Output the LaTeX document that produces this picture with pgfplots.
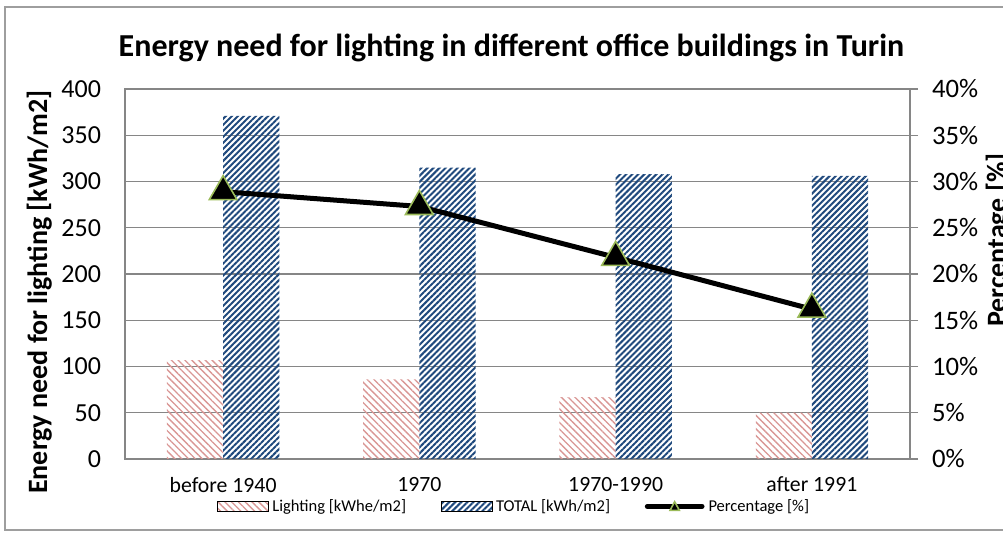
\documentclass[border=0pt]{standalone}
\usepackage{fontspec}
\setmainfont{Carlito}
\usepackage{pgfplots}
\pgfplotsset{compat=1.18}
\usetikzlibrary{patterns.meta}

\definecolor{axgray}{RGB}{134,134,134}
\definecolor{litered}{RGB}{217,150,148}
\definecolor{totblue}{RGB}{31,73,125}
\definecolor{mkgreen}{RGB}{155,187,89}

\tikzset{
  lightpat/.style={pattern={Lines[angle=-45,distance=3.6pt,line width=1pt]},pattern color=litered},
  totpat/.style={pattern={Lines[angle=45,distance=3.2pt,line width=1.5pt]},pattern color=totblue},
}

\begin{document}
\begin{tikzpicture}
% outer chart frame (right side runs off the page)
\draw[axgray!80, line width=1.1pt] (3.75pt,3.75pt) rectangle (770pt,396pt);

\begin{axis}[
  at={(93.75pt,57pt)}, anchor=south west,
  scale only axis, width=588.75pt, height=277.5pt,
  xmin=-0.5, xmax=3.5, ymin=0, ymax=400,
  ybar=0pt, bar width=0.286,
  xtick={0,1,2,3},
  xticklabels={before 1940,1970,1970-1990,after 1991},
  ytick={0,50,...,400},
  xtick pos=bottom, ytick pos=left,
  major tick length=0pt,
  ymajorgrids, grid style={axgray, line width=1.1pt},
  axis line style={axgray, line width=1.1pt},
  /pgf/number format/assume math mode=true,
  xticklabel style={font=\fontsize{16.3}{19}\selectfont, yshift=-10pt},
  yticklabel style={font=\fontsize{19.5}{23}\selectfont, xshift=-14.5pt},
]
\addplot[draw=none, lightpat] coordinates {(0,107) (1,86) (2,67) (3,50)};
\addplot[draw=none, totpat] coordinates {(0,371) (1,315) (2,308) (3,306)};
\end{axis}

\begin{axis}[
  at={(93.75pt,57pt)}, anchor=south west,
  scale only axis, width=588.75pt, height=277.5pt,
  xmin=-0.5, xmax=3.5, ymin=0, ymax=40,
  axis x line=none, axis y line*=right,
  ytick={0,5,...,40},
  yticklabels={0\%,5\%,10\%,15\%,20\%,25\%,30\%,35\%,40\%},
  major tick length=6pt, tick align=outside,
  tick style={axgray, line width=1.1pt},
  axis line style={axgray, line width=1.1pt},
  yticklabel style={font=\fontsize{20}{24}\selectfont, xshift=7pt},
  legend columns=3,
  legend style={at={(0.497,-0.128)}, anchor=center, draw=none, fill=none,
    font=\fontsize{12.4}{14}\selectfont,
    nodes={inner xsep=3pt},
    /tikz/every even column/.append style={column sep=23pt}},
]
\addlegendimage{legend image code/.code={\fill[lightpat] (0pt,-4pt) rectangle (38pt,4pt);}}
\addlegendentry{Lighting [kWhe/m2]}
\addlegendimage{legend image code/.code={\fill[totpat] (0pt,-4pt) rectangle (38pt,4pt);}}
\addlegendentry{TOTAL [kWh/m2]}
\addplot[black, line width=3.75pt, mark=triangle*, mark size=12pt,
  mark options={fill=black, draw=mkgreen, line width=1.2pt},
  legend image code/.code={
    \draw[black, line width=3.75pt, line cap=round] (0pt,0pt) -- (41pt,0pt);
    \draw[mkgreen, line width=1.2pt, fill=black] (17pt,-3pt) -- (24pt,-3pt) -- (20.5pt,3.5pt) -- cycle;}]
  coordinates {(0,28.9) (1,27.3) (2,21.8) (3,16.2)};
\addlegendentry{Percentage [\%]}
\end{axis}

\node[anchor=base] at (383.6pt,358.5pt)
  {\fontsize{24}{28}\selectfont\bfseries Energy need for lighting in different office buildings in Turin};
\node[rotate=90, anchor=base] at (35.25pt,182.25pt)
  {\fontsize{21}{25}\selectfont\bfseries Energy need for lighting [kWh/m2]};
\node[rotate=90, anchor=base] at (754.5pt,221.25pt)
  {\fontsize{21}{25}\selectfont\bfseries Percentage [\%]};

\pgfresetboundingbox
\useasboundingbox (0pt,0pt) rectangle (752.25pt,401.25pt);
\end{tikzpicture}
\end{document}
